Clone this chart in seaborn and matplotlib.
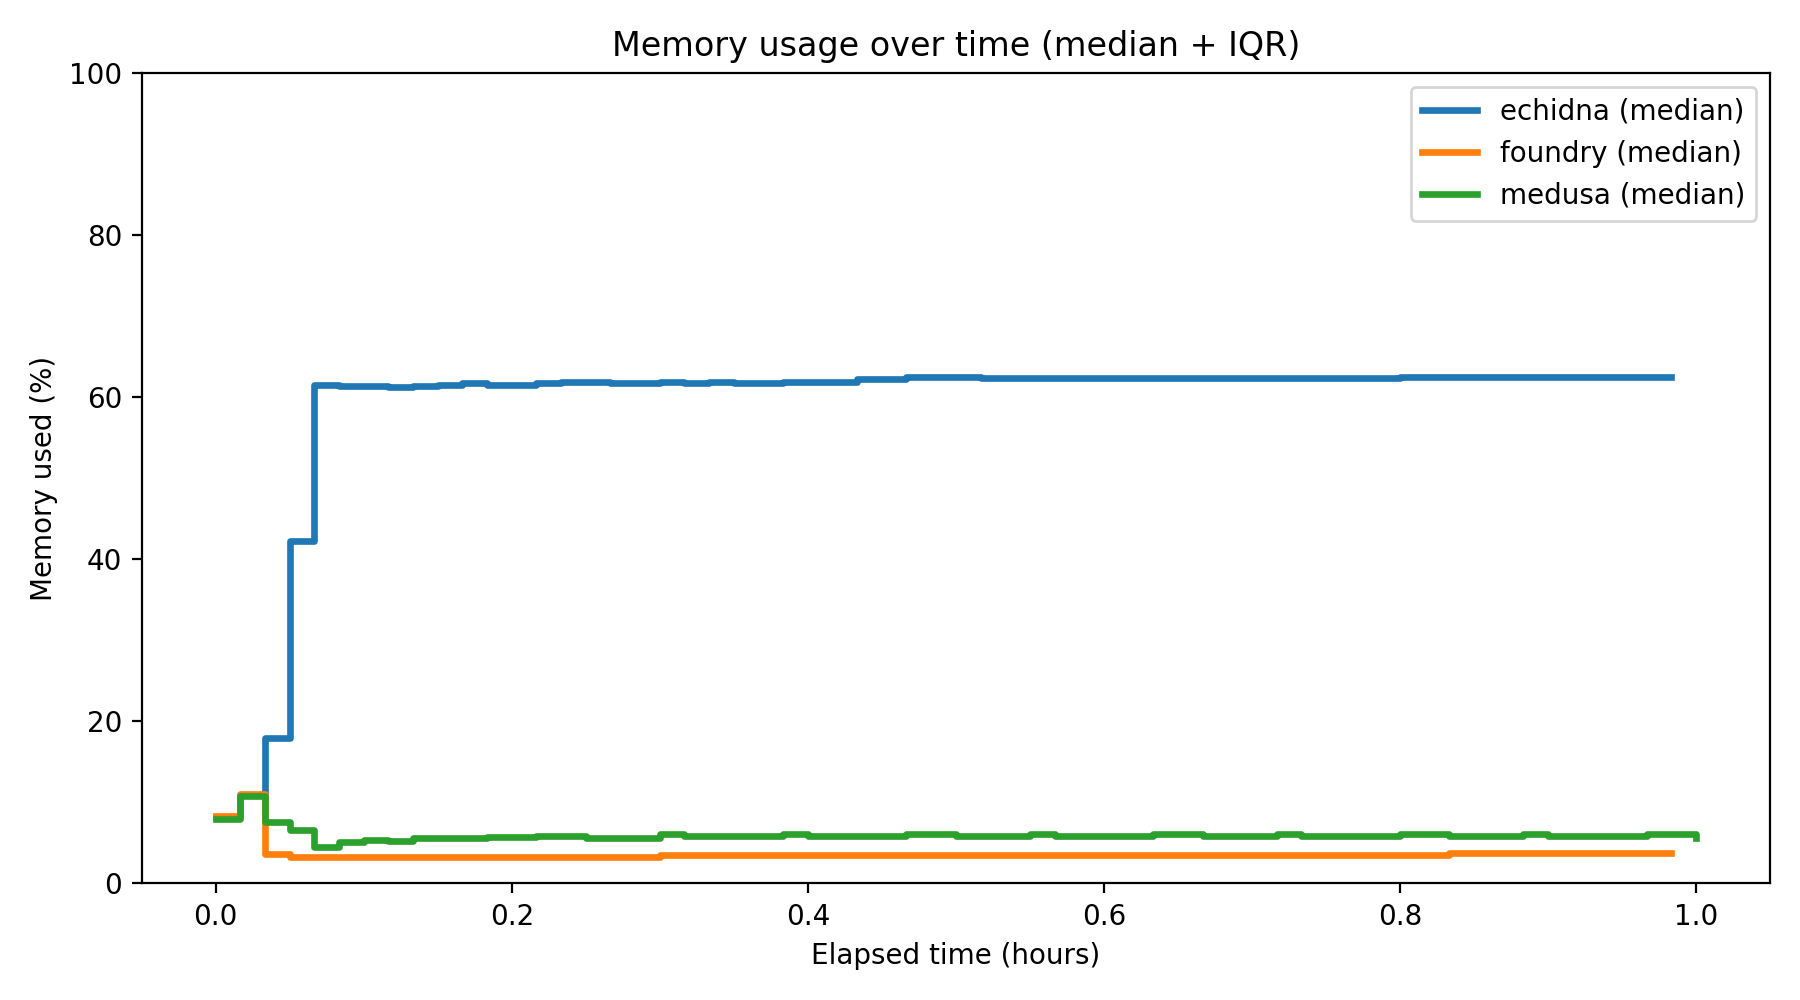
import numpy as np
import pandas as pd
import matplotlib
matplotlib.use("Agg")
import matplotlib.pyplot as plt
import seaborn as sns

# one sample per minute, elapsed time in hours
echidna = [8.2, 10.9, 18.0, 42.2, 61.5, 61.4, 61.3, 61.2, 61.3, 61.5,
           61.7, 61.5, 61.5, 61.7, 61.9, 61.9, 61.7, 61.7, 61.8, 61.7,
           61.8, 61.7, 61.7, 61.8, 61.9, 61.9, 62.2, 62.2, 62.5, 62.5,
           62.5, 62.3, 62.3, 62.3, 62.3, 62.3, 62.3, 62.3, 62.3, 62.3,
           62.4, 62.4, 62.4, 62.4, 62.4, 62.4, 62.4, 62.4, 62.5, 62.5,
           62.5, 62.5, 62.5, 62.5, 62.5, 62.5, 62.5, 62.5, 62.5, 62.5]
foundry = [8.3, 11.0, 3.6, 3.3, 3.3, 3.3, 3.3, 3.3, 3.3, 3.3,
           3.3, 3.3, 3.3, 3.3, 3.3, 3.3, 3.3, 3.3, 3.45, 3.45,
           3.45, 3.45, 3.45, 3.45, 3.45, 3.45, 3.45, 3.45, 3.45, 3.45,
           3.45, 3.45, 3.45, 3.45, 3.45, 3.45, 3.55, 3.55, 3.55, 3.55,
           3.55, 3.55, 3.55, 3.55, 3.55, 3.55, 3.55, 3.55, 3.55, 3.55,
           3.7, 3.7, 3.7, 3.7, 3.7, 3.7, 3.7, 3.7, 3.7, 3.7]
medusa = [8.0, 10.8, 7.6, 6.6, 4.5, 5.1, 5.4, 5.2, 5.6, 5.6,
          5.6, 5.7, 5.7, 5.9, 5.8, 5.6, 5.6, 5.6, 6.1, 5.8,
          5.8, 5.8, 5.8, 6.05, 5.9, 5.8, 5.8, 5.8, 6.05, 6.05,
          5.9, 5.8, 5.8, 6.05, 5.9, 5.9, 5.9, 5.8, 6.05, 6.05,
          5.9, 5.8, 5.8, 6.05, 5.9, 5.9, 5.9, 5.8, 6.05, 6.05,
          5.9, 5.9, 5.9, 6.05, 5.9, 5.9, 5.9, 5.8, 6.05, 6.05,
          5.6]

series = {"echidna": echidna, "foundry": foundry, "medusa": medusa}
colors = ["#1f77b4", "#ff7f0e", "#2ca02c"]

fig, ax = plt.subplots(figsize=(9, 5), dpi=200)

for (name, vals), col in zip(series.items(), colors):
    df = pd.DataFrame({"hours": np.arange(len(vals)) / 60.0, "mem": vals})
    sns.lineplot(data=df, x="hours", y="mem", ax=ax, color=col, linewidth=2.4,
                 drawstyle="steps-post", label=f"{name} (median)")

ax.set_ylim(0, 100)
ax.set_title("Memory usage over time (median + IQR)")
ax.set_xlabel("Elapsed time (hours)")
ax.set_ylabel("Memory used (%)")
ax.legend(loc="upper right")

plt.tight_layout()
plt.savefig("out.png")
